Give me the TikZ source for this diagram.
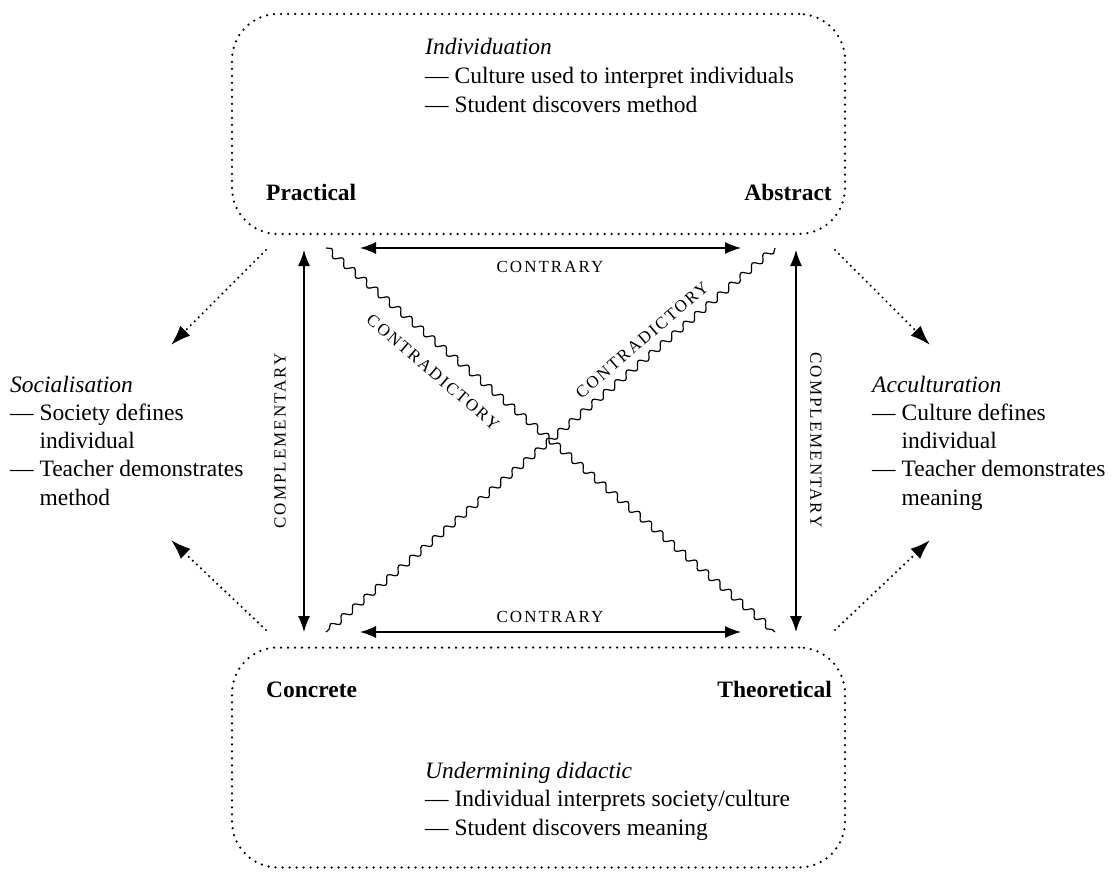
\documentclass[tikz,border=0pt]{standalone}
\usepackage{fontspec}
\setmainfont{Liberation Serif}
\newfontfamily\spacedcaps[LetterSpace=12]{Liberation Serif}
\usetikzlibrary{arrows.meta,decorations.pathmorphing}
% left-aligned block of lines whose baseline is that of its first line
\newcommand\stacktext[1]{\begin{tabular}[t]{@{}l@{}}#1\end{tabular}}

\begin{document}
\begin{tikzpicture}[x=1pt,y=-1pt,
  dotline/.style={line width=2.5pt, line cap=round, dash pattern=on 0pt off 7pt},
  frame/.style={draw, dotline, rounded corners=46pt, minimum width=613pt,
    minimum height=220pt, inner sep=0pt},
  body/.style={font=\fontsize{23.5}{28.3}\selectfont, inner sep=0pt},
  wide/.style={font=\fontsize{23.5}{28.8}\selectfont, inner sep=0pt},
  pole/.style={font=\fontsize{23.5}{28}\selectfont\bfseries, inner sep=0pt},
  rel/.style={font=\fontsize{17}{19}\selectfont\spacedcaps, inner sep=0pt},
  pair/.style={line width=1.2pt,
    {Latex[length=16pt,width=12pt]}-{Latex[length=16pt,width=12pt]}},
  wave/.style={line width=1.2pt, decorate,
    decoration={snake, segment length=15pt, amplitude=3.3pt}},
  feed/.style={line width=2.4pt, line cap=round, dash pattern=on 0pt off 5.6pt,
    -{Latex[length=20pt,width=14pt]}}
]
\useasboundingbox (0,0) rectangle (1111,872);

% the two dotted frames
\node[frame] (upper) at (538.5,124) {};
\node[frame] (lower) at (538.5,757.5) {};

% the four poles
\node[pole, anchor=base west] (prac) at (266,200) {Practical};
\node[pole, anchor=base east] (abst) at (832,200) {Abstract};
\node[pole, anchor=base west] (conc) at (266,697) {Concrete};
\node[pole, anchor=base east] (theo) at (832,697) {Theoretical};

% descriptive texts
\node[wide, anchor=base west] (indiv) at (425,55) {\stacktext{%
  \textit{Individuation}\\
  — Culture used to interpret individuals\\
  — Student discovers method}};
\node[wide, anchor=base west] (under) at (425,778) {\stacktext{%
  \textit{Undermining didactic}\\
  — Individual interprets society/culture\\
  — Student discovers meaning}};
\node[body, anchor=base west] (social) at (10,392) {\stacktext{%
  \textit{Socialisation}\\
  — Society defines\\
  \phantom{— }individual\\
  — Teacher demonstrates\\
  \phantom{— }method}};
\node[body, anchor=base west] (accult) at (872,392) {\stacktext{%
  \textit{Acculturation}\\
  — Culture defines\\
  \phantom{— }individual\\
  — Teacher demonstrates\\
  \phantom{— }meaning}};

% anchor points of the square
\coordinate (pa) at (304,250);  \coordinate (ca) at (304,632);
\coordinate (ab) at (796,250);  \coordinate (tb) at (796,632);
\coordinate (h1) at (360,248);  \coordinate (h2) at (741,248);
\coordinate (h3) at (360,632);  \coordinate (h4) at (741,632);
\coordinate (wtl) at (326,248); \coordinate (wtr) at (775,248);
\coordinate (wbl) at (326,632); \coordinate (wbr) at (775,632);

% contrary and complementary relations
\draw[pair] (h1) -- (h2);
\draw[pair] (h3) -- (h4);
\draw[pair] (pa) -- (ca);
\draw[pair] (ab) -- (tb);
\node[rel] (ctop) at (550,267) {CONTRARY};
\node[rel] (cbot) at (550,617) {CONTRARY};
\node[rel, rotate=90] (cleft) at (280,441) {COMPLEMENTARY};
\node[rel, rotate=-90] (cright) at (816,440) {COMPLEMENTARY};

% contradictory relations
\draw[wave] (wtl) -- (wbr);
\draw[wave] (wtr) -- (wbl);
\node[rel, rotate=-40.6] (dleft) at (433,372) {CONTRADICTORY};
\node[rel, rotate=40.6] (dright) at (642,340) {CONTRADICTORY};

% outward dotted arrows
\coordinate (o1) at (266,250); \coordinate (t1) at (171,345);
\coordinate (o2) at (266,630); \coordinate (t2) at (171,540);
\coordinate (o3) at (835,250); \coordinate (t3) at (930,345);
\coordinate (o4) at (835,630); \coordinate (t4) at (930,540);
\draw[feed] (o1) -- (t1);
\draw[feed] (o2) -- (t2);
\draw[feed] (o3) -- (t3);
\draw[feed] (o4) -- (t4);
\end{tikzpicture}
\end{document}
